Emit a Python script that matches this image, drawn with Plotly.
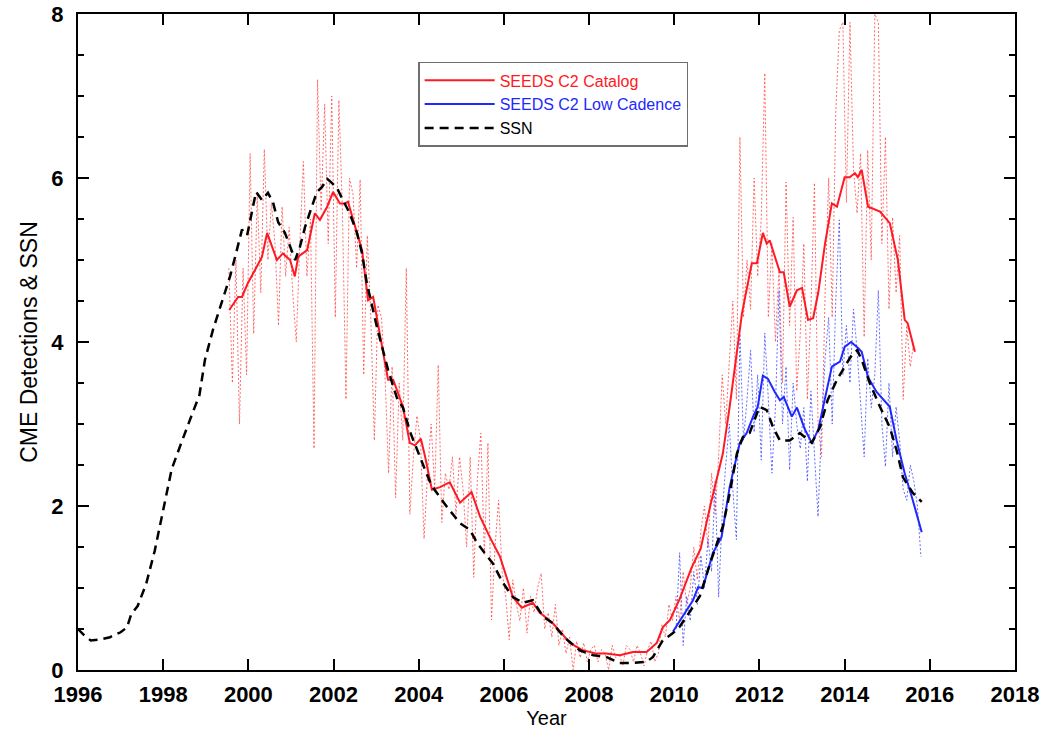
import plotly.graph_objects as go

# ---------------- data ----------------
ssn_x = [1996.0, 1996.15, 1996.3, 1996.5, 1996.75, 1997.0, 1997.15, 1997.25, 1997.4, 1997.6, 1997.8,
         1998.0, 1998.2, 1998.39, 1998.55, 1998.7, 1998.85, 1998.98, 1999.17, 1999.38, 1999.57, 1999.69,
         1999.85, 1999.97, 2000.08, 2000.18, 2000.32, 2000.46, 2000.58, 2000.7, 2000.86, 2001.02, 2001.1,
         2001.21, 2001.33, 2001.49, 2001.61, 2001.73, 2001.85, 2001.96, 2002.08, 2002.22, 2002.38, 2002.55,
         2002.67, 2002.78, 2002.9, 2003.02, 2003.16, 2003.28, 2003.5, 2003.63, 2003.8, 2003.96, 2004.15,
         2004.3, 2004.5, 2004.66, 2004.83, 2004.97, 2005.2, 2005.37, 2005.5, 2005.74, 2005.98, 2006.21,
         2006.45, 2006.68, 2006.92, 2007.15, 2007.3, 2007.48, 2007.78, 2008.1, 2008.4, 2008.72, 2009.03,
         2009.35, 2009.5, 2009.73, 2009.97, 2010.13, 2010.35, 2010.6, 2010.84, 2011.0, 2011.14, 2011.3,
         2011.47, 2011.61, 2011.77, 2012.0, 2012.17, 2012.32, 2012.48, 2012.71, 2012.95, 2013.23, 2013.42,
         2013.6, 2013.82, 2014.05, 2014.19, 2014.3, 2014.43, 2014.59, 2014.83, 2015.06, 2015.22, 2015.37,
         2015.6, 2015.81]
ssn_y = [0.50, 0.42, 0.36, 0.37, 0.40, 0.46, 0.52, 0.68, 0.78, 1.05, 1.45,
         1.95, 2.45, 2.72, 2.95, 3.15, 3.35, 3.78, 4.15, 4.5, 4.8, 5.04,
         5.37, 5.30, 5.6, 5.83, 5.73, 5.82, 5.7, 5.46, 5.33, 5.12, 5.0,
         5.16, 5.4, 5.65, 5.83, 5.89, 5.99, 5.94, 5.88, 5.73, 5.57, 5.33,
         5.08, 4.72, 4.43, 4.18, 3.9, 3.66, 3.3, 3.2, 2.9, 2.7, 2.44,
         2.25, 2.1, 1.99, 1.88, 1.79, 1.71, 1.55, 1.46, 1.3, 1.06, 0.89,
         0.82, 0.85, 0.65, 0.57, 0.47, 0.37, 0.24, 0.18, 0.16, 0.085, 0.085,
         0.1, 0.16, 0.36, 0.45, 0.53, 0.7, 0.9, 1.3, 1.55, 1.75, 2.15,
         2.64, 2.84, 2.89, 3.21, 3.17, 2.96, 2.8, 2.8, 2.89, 2.77, 2.96,
         3.29, 3.54, 3.74, 3.86, 3.9, 3.74, 3.5, 3.21, 2.96, 2.68, 2.35,
         2.16, 2.05]

cat_x = [1999.55, 1999.76, 1999.85, 1999.99, 2000.2, 2000.32, 2000.44, 2000.55, 2000.67, 2000.81,
         2000.98, 2001.09, 2001.17, 2001.38, 2001.49, 2001.56, 2001.68, 2001.85, 2001.99, 2002.15,
         2002.27, 2002.34, 2002.46, 2002.55, 2002.67, 2002.81, 2002.93, 2003.04, 2003.16, 2003.28,
         2003.4, 2003.51, 2003.63, 2003.79, 2003.91, 2004.05, 2004.15, 2004.31, 2004.5, 2004.73,
         2004.97, 2005.24, 2005.44, 2005.67, 2005.91, 2006.21, 2006.42, 2006.68, 2006.84, 2007.15,
         2007.55, 2007.85, 2008.18, 2008.4, 2008.72, 2009.03, 2009.35, 2009.59, 2009.73, 2009.9,
         2010.13, 2010.4, 2010.62, 2010.84, 2011.0, 2011.14, 2011.3, 2011.47, 2011.59, 2011.82,
         2011.94, 2012.08, 2012.17, 2012.24, 2012.36, 2012.48, 2012.57, 2012.71, 2012.88, 2013.0,
         2013.14, 2013.26, 2013.38, 2013.54, 2013.7, 2013.82, 2014.0, 2014.12, 2014.24, 2014.31,
         2014.4, 2014.55, 2014.83, 2015.06, 2015.25, 2015.41, 2015.48, 2015.65]
cat_y = [4.39, 4.55, 4.55, 4.72, 4.92, 5.04, 5.33, 5.16, 5.0, 5.08,
         5.0, 4.8, 5.04, 5.12, 5.37, 5.57, 5.49, 5.65, 5.83, 5.69,
         5.69, 5.71, 5.49, 5.33, 5.12, 4.51, 4.55, 4.23, 3.9, 3.54,
         3.54, 3.38, 3.21, 2.77, 2.74, 2.82, 2.6, 2.2, 2.23, 2.29,
         2.04, 2.17, 1.87, 1.62, 1.38, 0.89, 0.76, 0.82, 0.7, 0.57,
         0.33, 0.24, 0.2, 0.2, 0.18, 0.22, 0.22, 0.33, 0.52, 0.61,
         0.87, 1.24, 1.48, 1.99, 2.35, 2.64, 3.21, 3.86, 4.35, 4.96,
         4.96, 5.33, 5.2, 5.24, 5.04, 4.85, 4.85, 4.43, 4.63, 4.66,
         4.27, 4.29, 4.6, 5.2, 5.69, 5.65, 6.01, 6.01, 6.06, 6.01,
         6.1, 5.65, 5.59, 5.45, 5.0, 4.27, 4.23, 3.88]

low_x = [2009.97, 2010.2, 2010.44, 2010.56, 2010.67, 2010.91, 2011.11, 2011.3, 2011.54, 2011.7,
         2011.85, 2011.96, 2012.08, 2012.2, 2012.36, 2012.48, 2012.57, 2012.76, 2012.88, 2013.07,
         2013.23, 2013.38, 2013.54, 2013.7, 2013.89, 2014.0, 2014.15, 2014.29, 2014.4, 2014.55,
         2014.75, 2015.06, 2015.22, 2015.41, 2015.6, 2015.81]
low_y = [0.47, 0.65, 0.85, 1.01, 1.0, 1.43, 1.62, 2.23, 2.77, 2.89,
         3.09, 3.21, 3.59, 3.55, 3.39, 3.29, 3.33, 3.09, 3.2, 2.93,
         2.77, 2.93, 3.33, 3.7, 3.76, 3.94, 4.0, 3.94, 3.88, 3.57,
         3.39, 3.21, 2.8, 2.4, 2.07, 1.68]

# monthly raw counts (scaled), dotted
cat_raw_start = 1999.5
cat_raw = [4.9, 3.5, 5.0, 3.0, 4.9, 3.6,                                  # 1999 Jul-Dec
           6.3, 4.1, 5.8, 4.6, 6.35, 5.0, 5.7, 5.2, 4.2, 5.65, 4.8, 5.4,  # 2000
           4.6, 4.0, 5.2, 6.2, 4.8, 5.5, 2.7, 7.2, 5.6, 6.9, 5.2, 7.0,    # 2001
           4.3, 6.95, 5.6, 3.3, 6.0, 5.8, 4.9, 5.98, 3.6, 5.3, 4.3, 2.8,  # 2002
           4.45, 4.3, 3.6, 2.4, 3.7, 2.1, 3.5, 2.8, 4.9, 1.9, 2.6, 3.1,   # 2003
           2.8, 1.6, 2.4, 3.0, 2.2, 3.72, 1.8, 2.4, 2.2, 2.6, 1.9, 2.6,   # 2004
           2.2, 1.5, 2.6, 1.13, 2.3, 2.89, 1.4, 2.77, 0.61, 1.5, 2.07, 1.2,  # 2005
           0.9, 0.37, 1.1, 0.8, 0.6, 1.0, 0.45, 0.9, 0.7, 1.0, 1.18, 0.5,   # 2006
           0.7, 0.4, 0.8, 0.3, 0.5, 0.2, 0.4, 0.0, 0.35, 0.15, 0.33, 0.1,   # 2007
           0.25, 0.3, 0.1, 0.25, 0.2, 0.0, 0.3, 0.15, 0.2, 0.05, 0.3, 0.25, # 2008
           0.1, 0.3, 0.2, 0.05, 0.25, 0.35, 0.1, 0.2, 0.55, 0.4, 0.8, 0.6, # 2009
           0.9, 0.6, 1.2, 0.8, 1.0, 1.5, 1.1, 1.7, 2.0, 1.5, 2.4, 1.9,     # 2010
           2.6, 3.6, 3.0, 3.7, 4.5, 3.3, 6.5, 4.3, 5.0, 4.4, 6.0, 4.8,     # 2011
           5.5, 7.28, 4.3, 5.2, 4.0, 4.9, 3.5, 5.95, 4.2, 5.52, 3.4, 4.1,  # 2012
           5.2, 3.3, 4.4, 5.94, 3.0, 2.6, 4.6, 6.0, 4.3, 6.8, 7.8, 7.9,    # 2013
           5.7, 7.9, 6.1, 5.57, 6.3, 4.06, 6.34, 5.0, 8.0, 7.9, 5.2, 6.5,  # 2014
           4.4, 5.52, 4.6, 5.3, 3.3, 4.2, 3.7, 4.0]                        # 2015
low_raw_start = 2010.0
low_raw = [0.5, 1.43, 0.3, 0.9, 0.6, 1.2, 0.8, 1.4, 1.0, 1.6, 1.2, 2.3,     # 2010
           0.89, 1.9, 2.5, 3.0, 2.2, 1.59, 4.1, 2.8, 3.3, 3.9, 2.9, 3.6,   # 2011
           2.56, 4.11, 3.3, 2.4, 3.2, 4.63, 3.0, 3.7, 2.44, 3.5, 3.0, 2.7, # 2012
           3.2, 2.3, 3.4, 2.7, 1.87, 3.0, 3.8, 4.3, 3.0, 4.5, 5.49, 3.6,   # 2013
           4.2, 3.5, 4.4, 3.9, 3.3, 2.6, 3.8, 3.2, 3.6, 4.63, 3.0, 2.48,   # 2014
           3.5, 2.6, 3.21, 2.8, 2.2, 2.07, 2.5, 2.3, 2.0, 1.38]            # 2015

cat_raw_x = [cat_raw_start + (i + 0.5) / 12 for i in range(len(cat_raw))]
low_raw_x = [low_raw_start + (i + 0.5) / 12 for i in range(len(low_raw))]

RED = "rgb(255,25,35)"
BLUE = "rgb(30,40,255)"
FONT = "Liberation Sans, Arial, Helvetica, sans-serif"

fig = go.Figure()
fig.add_trace(go.Scatter(x=cat_raw_x, y=cat_raw, mode="lines", showlegend=False,
                         line=dict(color="rgba(255,70,70,0.8)", width=1, dash="2px,2px")))
fig.add_trace(go.Scatter(x=low_raw_x, y=low_raw, mode="lines", showlegend=False,
                         line=dict(color="rgba(60,70,255,0.8)", width=1, dash="2px,2px")))
fig.add_trace(go.Scatter(x=cat_x, y=cat_y, mode="lines", name='<span style="color:rgb(255,25,35)">SEEDS C2 Catalog</span>',
                         line=dict(color=RED, width=2)))
fig.add_trace(go.Scatter(x=low_x, y=low_y, mode="lines", name='<span style="color:rgb(30,40,255)">SEEDS C2 Low Cadence</span>',
                         line=dict(color=BLUE, width=2)))
fig.add_trace(go.Scatter(x=ssn_x, y=ssn_y, mode="lines", name="SSN",
                         line=dict(color="black", width=2.5, dash="9px,6px")))

axis_common = dict(showline=True, linecolor="black", linewidth=2, mirror="ticks",
                   ticks="inside", ticklen=11, tickwidth=2, tickcolor="black",
                   showgrid=False, zeroline=False, automargin=False,
                   tickfont=dict(family=FONT, size=22, color="black", weight="bold"))

fig.update_xaxes(range=[1996, 2018], tick0=1996, dtick=2, ticklabelstandoff=4,
                 title=dict(text="Year", font=dict(family=FONT, size=20, color="black"), standoff=0),
                 **axis_common)
fig.update_yaxes(range=[0, 8], tick0=0, dtick=2, ticklabelstandoff=8,
                 minor=dict(dtick=0.5, ticks="inside", ticklen=6, tickwidth=2, tickcolor="black"),
                 title=dict(text="CME Detections &amp; SSN", font=dict(family=FONT, size=23, color="black"), standoff=7),
                 **axis_common)

fig.update_layout(
    width=1052, height=729,
    margin=dict(l=78, r=37, t=14, b=59),
    paper_bgcolor="white", plot_bgcolor="white",
    font=dict(family=FONT),
    legend=dict(x=0.363, y=0.927, xanchor="left", yanchor="top",
                bgcolor="white", bordercolor="rgb(110,110,110)", borderwidth=1.5,
                font=dict(family=FONT, size=16, color="black"),
                itemwidth=70, tracegroupgap=0),
)

fig.write_html("out.html")
